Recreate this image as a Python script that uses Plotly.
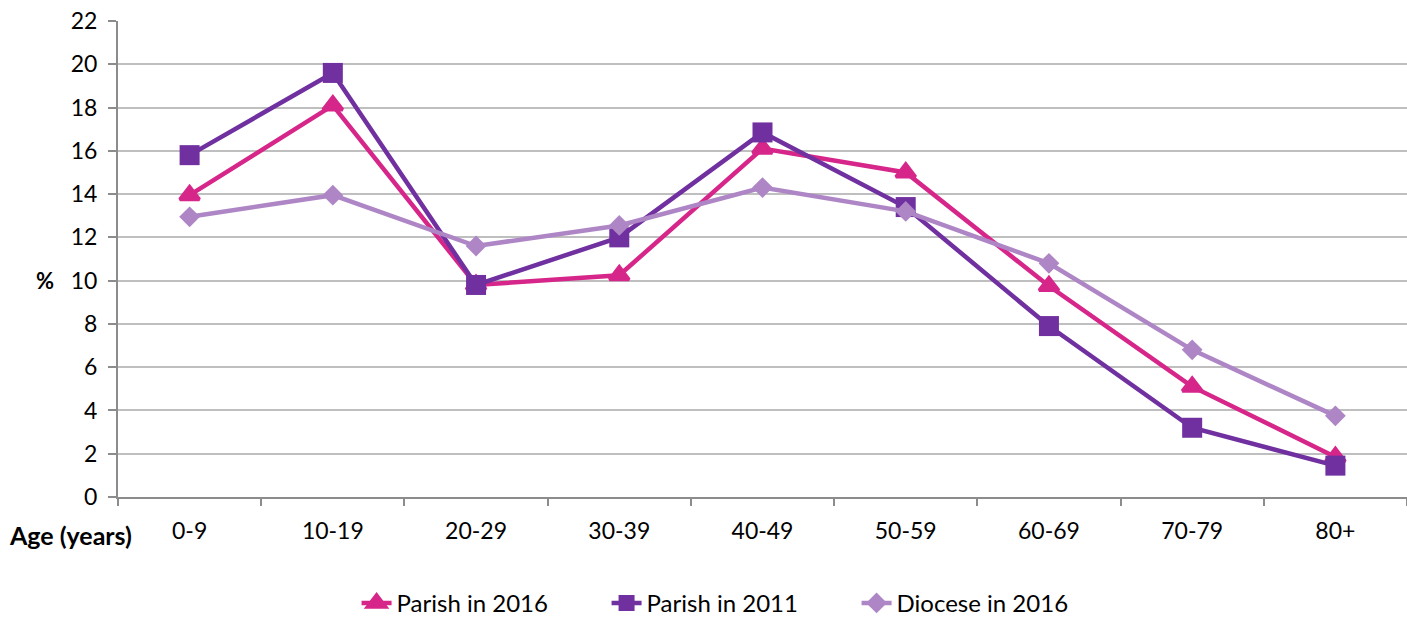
import plotly.graph_objects as go

categories = ["0-9", "10-19", "20-29", "30-39", "40-49", "50-59", "60-69", "70-79", "80+"]
parish_2016 = [13.95, 18.1, 9.8, 10.25, 16.1, 15.0, 9.75, 5.1, 1.85]
parish_2011 = [15.8, 19.6, 9.8, 12.0, 16.85, 13.4, 7.9, 3.2, 1.45]
diocese_2016 = [12.95, 13.95, 11.6, 12.55, 14.3, 13.2, 10.8, 6.8, 3.75]
y_ticks = list(range(0, 23, 2))

FONT = "Lato"

fig = go.Figure()
fig.add_trace(go.Scatter(
    x=categories, y=parish_2016, name="Parish in 2016", mode="lines+markers",
    line=dict(color="#D6268A", width=4.5),
    marker=dict(symbol="triangle-up", size=17, color="#D6268A",
                line=dict(color="#D6268A", width=3.5))))
fig.add_trace(go.Scatter(
    x=categories, y=parish_2011, name="Parish in 2011", mode="lines+markers",
    line=dict(color="#7030A0", width=4.5),
    marker=dict(symbol="square", size=20, color="#7030A0")))
fig.add_trace(go.Scatter(
    x=categories, y=diocese_2016, name="Diocese in 2016", mode="lines+markers",
    line=dict(color="#AE86C6", width=4.5),
    marker=dict(symbol="diamond", size=16, color="#AE86C6")))

fig.update_layout(
    width=1407, height=617,
    margin=dict(l=118, r=0, t=21, b=120, autoexpand=False),
    paper_bgcolor="white", plot_bgcolor="white",
    font=dict(family=FONT, size=23, color="#000000"),
    showlegend=True,
    legend=dict(orientation="h", x=0.476, xanchor="center", y=-0.176, yanchor="top",
                font=dict(family=FONT, size=24), entrywidth=205,
                traceorder="normal"),
    xaxis=dict(type="category", showgrid=False, showline=True, linecolor="#8C8C8C",
               linewidth=2, ticks="outside", tickson="boundaries", ticklen=7,
               tickcolor="#8C8C8C", tickwidth=2, tickfont=dict(size=23),
               range=[-0.5, 8.5], automargin=False, ticklabelstandoff=12),
    yaxis=dict(range=[0, 22], tickvals=y_ticks, showgrid=True, gridcolor="#BFBFBF",
               gridwidth=2, showline=True, linecolor="#8C8C8C", linewidth=2,
               ticks="outside", ticklen=8, tickcolor="#8C8C8C", tickwidth=2,
               tickfont=dict(size=23), zeroline=False, automargin=False,
               ticklabelstandoff=6),
)

fig.add_annotation(text="<b>%</b>", xref="paper", yref="paper", x=(45 - 118) / 1289,
                   y=10.0 / 22, xanchor="center", yanchor="middle", showarrow=False,
                   font=dict(family=FONT, size=22))
fig.add_annotation(text="<b>Age (years)</b>", xref="paper", yref="paper",
                   x=(7 - 118) / 1289, y=-38 / 476, xanchor="left", yanchor="middle",
                   showarrow=False, font=dict(family=FONT, size=25))

fig.write_html("out.html", config={"displayModeBar": False},
               post_script="document.body.style.margin='0';")
